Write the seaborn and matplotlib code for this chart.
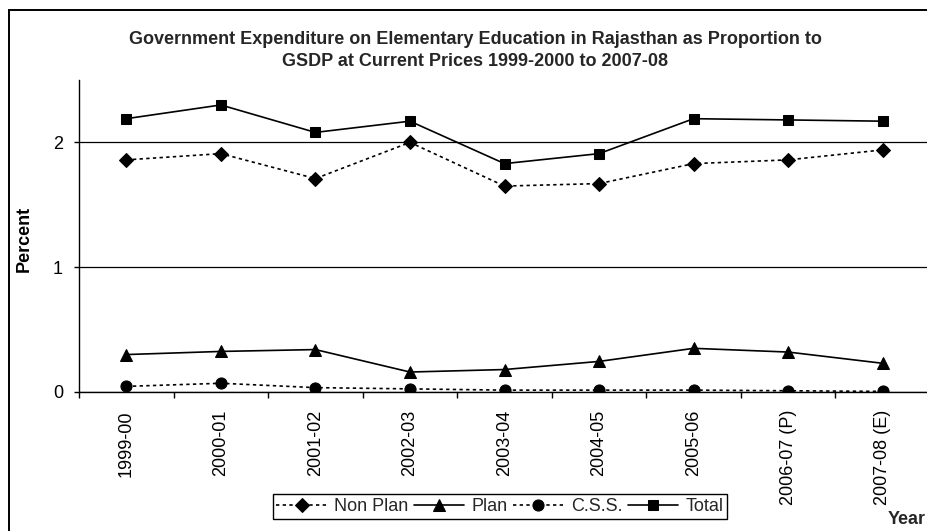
import matplotlib
matplotlib.use("Agg")
import matplotlib.pyplot as plt
from matplotlib.patches import Rectangle
from matplotlib.ticker import FixedLocator
import seaborn as sns

# Years (P = provisional, E = estimate)
years = ["1999-00", "2000-01", "2001-02", "2002-03", "2003-04",
         "2004-05", "2005-06", "2006-07 (P)", "2007-08 (E)"]

# Expenditure as percent of GSDP
non_plan = [1.86, 1.91, 1.71, 2.00, 1.65, 1.67, 1.83, 1.86, 1.94]
plan = [0.30, 0.325, 0.34, 0.16, 0.18, 0.245, 0.35, 0.32, 0.23]
css = [0.045, 0.07, 0.035, 0.025, 0.015, 0.015, 0.015, 0.01, 0.005]
total = [2.19, 2.30, 2.08, 2.17, 1.83, 1.91, 2.19, 2.18, 2.17]

series_names = ["Non Plan", "Plan", "C.S.S.", "Total"]

sns.set_theme(style="white")
plt.rcParams["font.family"] = ["Liberation Sans", "DejaVu Sans"]

W, H = 927, 531
fig = plt.figure(figsize=(W / 100, H / 100), dpi=100)
ax = fig.add_axes([79 / W, 139 / H, 851 / W, 312 / H])

dotted = (0, (2, 2))
styles = {
    "Non Plan": dict(marker="D", markersize=7.0, linestyle=dotted),
    "Plan": dict(marker="^", markersize=8.5, linestyle="-"),
    "C.S.S.": dict(marker="o", markersize=8.0, linestyle=dotted),
    "Total": dict(marker="s", markersize=7.2, linestyle="-"),
}
values = {"Non Plan": non_plan, "Plan": plan, "C.S.S.": css, "Total": total}

for name in series_names:
    sns.lineplot(x=years, y=values[name], ax=ax, color="black",
                 markeredgecolor="black", linewidth=1.2, sort=False,
                 label=name, **styles[name])

ax.set_xlim(-0.5, len(years) - 0.5)
ax.set_ylim(0, 2.5)
ax.set_yticks([0, 1, 2])
ax.set_yticklabels(["0", "1", "2"])
ax.set_xticks(range(len(years)))
ax.set_xticklabels(years, rotation=90)
ax.xaxis.set_minor_locator(FixedLocator([i - 0.5 for i in range(len(years) + 1)]))

ax.tick_params(axis="x", which="major", length=0, pad=13, labelsize=13, labelcolor="black")
ax.tick_params(axis="x", which="minor", length=4.3, width=1, color="black", direction="out", bottom=True)
ax.tick_params(axis="y", which="major", length=3.6, width=1, color="black", direction="out",
               left=True, pad=8, labelsize=13, labelcolor="black")

for side in ["top", "right"]:
    ax.spines[side].set_visible(False)
for side in ["left", "bottom"]:
    ax.spines[side].set_color("black")
    ax.spines[side].set_linewidth(1)

ax.yaxis.grid(True, color="black", linewidth=0.9)
ax.xaxis.grid(False)
ax.set_axisbelow(True)

ax.set_xlabel("")
ax.set_ylabel("Percent", fontsize=13, fontweight="bold", color="black")
ax.yaxis.set_label_coords((33 - 79) / 851, 0.49)

handles, labels = ax.get_legend_handles_labels()
ax.get_legend().remove()
leg = fig.legend(handles, labels, loc="center", bbox_to_anchor=(500 / W, 1 - 506.5 / H),
                 ncol=4, fontsize=13, frameon=True, fancybox=False, framealpha=1,
                 edgecolor="black", borderpad=0.2, handlelength=2.8,
                 handletextpad=0.4, columnspacing=0.3, borderaxespad=0)
leg.get_frame().set_linewidth(1)

fig.text(475 / W, 1 - 50.5 / H,
         "Government Expenditure on Elementary Education in Rajasthan as Proportion to\n"
         "GSDP at Current Prices 1999-2000 to 2007-08",
         ha="center", va="center", fontsize=13, fontweight="bold", linespacing=1.45)

fig.text(888 / W, 1 - 519.5 / H, "Year", ha="left", va="center",
         fontsize=13, fontweight="bold")

# outer chart frame
fig.add_artist(Rectangle((8.5 / W, -0.05), 1.2, 1.05 - 9.5 / H,
                         transform=fig.transFigure, fill=False,
                         edgecolor="black", linewidth=1.4))

fig.savefig("out.png", dpi=100)
